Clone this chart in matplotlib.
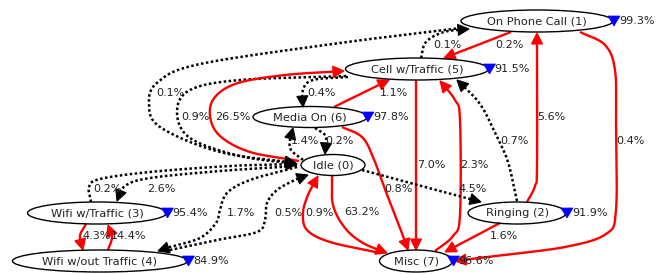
import numpy as np
import matplotlib
matplotlib.use("Agg")
import matplotlib.pyplot as plt
from matplotlib.patches import Ellipse, Polygon

# ---------------- data ----------------
node_names = ["Idle (0)", "On Phone Call (1)", "Ringing (2)", "Wifi w/Traffic (3)",
              "Wifi w/out Traffic (4)", "Cell w/Traffic (5)", "Media On (6)", "Misc (7)"]
self_loop_pct = [None, 99.3, 91.9, 95.4, 84.9, 91.5, 97.8, 96.6]

edge_src = [1, 5, 1, 5, 0, 5, 6, 6, 0, 6, 5, 7, 2, 2, 1, 0, 2, 0, 7, 0, 4, 3, 0, 3, 4]
edge_dst = [5, 1, 0, 0, 5, 6, 5, 0, 6, 7, 7, 5, 5, 1, 7, 2, 7, 7, 0, 4, 0, 0, 3, 4, 3]
edge_pct = [0.2, 0.1, 0.1, 0.9, 26.5, 0.4, 1.1, 0.2, 1.4, 0.8, 7.0, 2.3, 0.7, 5.6, 0.4,
            4.5, 1.6, 63.2, 0.9, 1.7, 0.5, 0.2, 2.6, 4.3, 14.4]
edge_kind = ["solid", "dotted", "dotted", "dotted", "solid", "dotted", "solid", "dotted",
             "dotted", "solid", "solid", "solid", "dotted", "solid", "solid", "dotted",
             "solid", "solid", "solid", "dotted", "dotted", "dotted", "dotted", "solid", "solid"]

# ---------------- layout (pixel space) ----------------
node_pos = {0: (333, 165), 1: (537, 21), 2: (517, 213), 3: (97, 213),
            4: (100, 261), 5: (417, 69), 6: (310, 117), 7: (416, 261)}
node_size = {0: (64, 21), 1: (152, 22), 2: (98, 22), 3: (139, 22),
             4: (175, 22), 5: (143, 22), 6: (114, 21), 7: (73, 22)}

routes = [
    [(511, 32), (444, 58)],
    [(421, 58), (426, 42), (444, 32), (469, 29)],
    [(461, 28), (340, 43), (200, 64), (158, 82), (149, 103), (160, 127), (220, 152), (296, 163)],
    [(346, 76), (240, 80), (190, 90), (177, 112), (190, 138), (240, 156), (297, 164)],
    [(299, 161), (250, 152), (220, 136), (210, 116), (215, 97), (238, 83), (285, 75), (344, 71)],
    [(348, 77), (313, 80), (303, 90), (303, 107)],
    [(334, 107), (389, 80)],
    [(315, 128), (325, 135), (326, 143), (325, 154)],
    [(303, 160), (291, 150), (290, 140), (293, 128)],
    [(342, 127), (362, 137), (373, 157), (386, 192), (400, 228), (408, 250)],
    [(416, 80), (416, 250)],
    [(435, 251), (453, 236), (460, 215), (460, 120), (455, 100), (440, 81)],
    [(517, 201), (508, 162), (496, 135), (480, 104), (457, 80)],
    [(527, 202), (535, 186), (537, 165), (537, 33)],
    [(580, 32), (605, 45), (615, 70), (616, 120), (616, 210), (606, 234), (565, 247), (495, 256), (455, 261)],
    [(362, 170), (481, 202)],
    [(500, 223), (445, 252)],
    [(332, 176), (333, 205), (345, 228), (363, 243), (387, 253)],
    [(380, 253), (330, 242), (307, 230), (303, 213), (308, 195), (318, 176)],
    [(297, 167), (250, 180), (227, 193), (220, 210), (216, 223), (200, 238), (170, 247), (158, 251)],
    [(165, 251), (217, 240), (257, 232), (265, 220), (267, 203), (277, 190), (295, 180), (308, 175)],
    [(91, 202), (89, 187), (100, 179), (150, 172), (230, 166), (297, 164)],
    [(297, 166), (220, 171), (150, 178), (125, 186), (117, 201)],
    [(86, 224), (80, 236), (83, 250)],
    [(108, 250), (112, 237), (108, 225)],
]
label_pos = [(509, 45), (447, 45), (170, 93), (195, 117), (233, 117), (321, 93), (394, 93),
             (339, 141), (305, 141), (398, 189), (431, 165), (474, 165), (514, 141),
             (551, 117), (630, 141), (473, 189), (504, 236), (362, 212), (319, 213),
             (241, 213), (288, 213), (107, 189), (161, 189), (97, 236), (129, 236)]

W, H = 666, 274
TXT = "#222222"
fig = plt.figure(figsize=(W / 100, H / 100), dpi=100)
ax = fig.add_axes([0, 0, 1, 1])
ax.set_xlim(0, W)
ax.set_ylim(H, 0)
ax.axis("off")


def spline(pts, n=40):
    pts = np.asarray(pts, float)
    if len(pts) == 2:
        t = np.linspace(0, 1, n)[:, None]
        return pts[0] * (1 - t) + pts[1] * t
    P = np.vstack([2 * pts[0] - pts[1], pts, 2 * pts[-1] - pts[-2]])
    out = []
    for i in range(1, len(P) - 2):
        p0, p1, p2, p3 = P[i - 1], P[i], P[i + 1], P[i + 2]
        t = np.linspace(0, 1, n, endpoint=False)[:, None]
        out.append(0.5 * ((2 * p1) + (-p0 + p2) * t + (2 * p0 - 5 * p1 + 4 * p2 - p3) * t ** 2
                          + (-p0 + 3 * p1 - 3 * p2 + p3) * t ** 3))
    out.append(pts[-1][None])
    return np.vstack(out)


def draw_edge(pts, kind):
    color = "red" if kind == "solid" else "black"
    c = spline(pts)
    seg = np.sqrt((np.diff(c, axis=0) ** 2).sum(1))
    s = np.concatenate([[0], np.cumsum(seg)])
    base_s = s[-1] - 11
    b = np.array([np.interp(base_s, s, c[:, 0]), np.interp(base_s, s, c[:, 1])])
    keep = s < base_s
    line = np.vstack([c[keep], b[None]])
    if kind == "solid":
        ax.plot(line[:, 0], line[:, 1], color=color, lw=1.7, zorder=2, solid_capstyle="butt")
    else:
        ax.plot(line[:, 0], line[:, 1], color=color, lw=1.8, linestyle=(0, (1, 1)),
                dash_capstyle="butt", zorder=2)
    tip = c[-1]
    d = tip - b
    d = d / np.linalg.norm(d)
    perp = np.array([-d[1], d[0]])
    tri = [tip, b + perp * 5.5, b - perp * 5.5]
    ax.add_patch(Polygon(tri, closed=True, facecolor=color, edgecolor=color, lw=0.8, zorder=3))


for i in range(len(edge_src)):
    draw_edge(routes[i], edge_kind[i])
    ax.text(label_pos[i][0], label_pos[i][1], f"{edge_pct[i]:.1f}%", ha="center", va="center",
            fontsize=8, color=TXT, zorder=5)

for k, name in enumerate(node_names):
    cx, cy = node_pos[k]
    w, h = node_size[k]
    ax.add_patch(Ellipse((cx, cy), w, h, facecolor="none", edgecolor="black", lw=1.0, zorder=4))
    ax.text(cx, cy, name, ha="center", va="center", fontsize=8.2, color=TXT, zorder=5)
    if self_loop_pct[k] is not None:
        tx = cx + w / 2 + 1
        tri = [(tx - 6, cy - 5), (tx + 6, cy - 5), (tx, cy + 5)]
        ax.add_patch(Polygon(tri, closed=True, facecolor="blue", edgecolor="blue", lw=0.5, zorder=6))
        ax.text(tx + 5, cy, f"{self_loop_pct[k]:.1f}%", ha="left", va="center",
                fontsize=8, color=TXT, zorder=5)

fig.savefig("out.png", dpi=100)
